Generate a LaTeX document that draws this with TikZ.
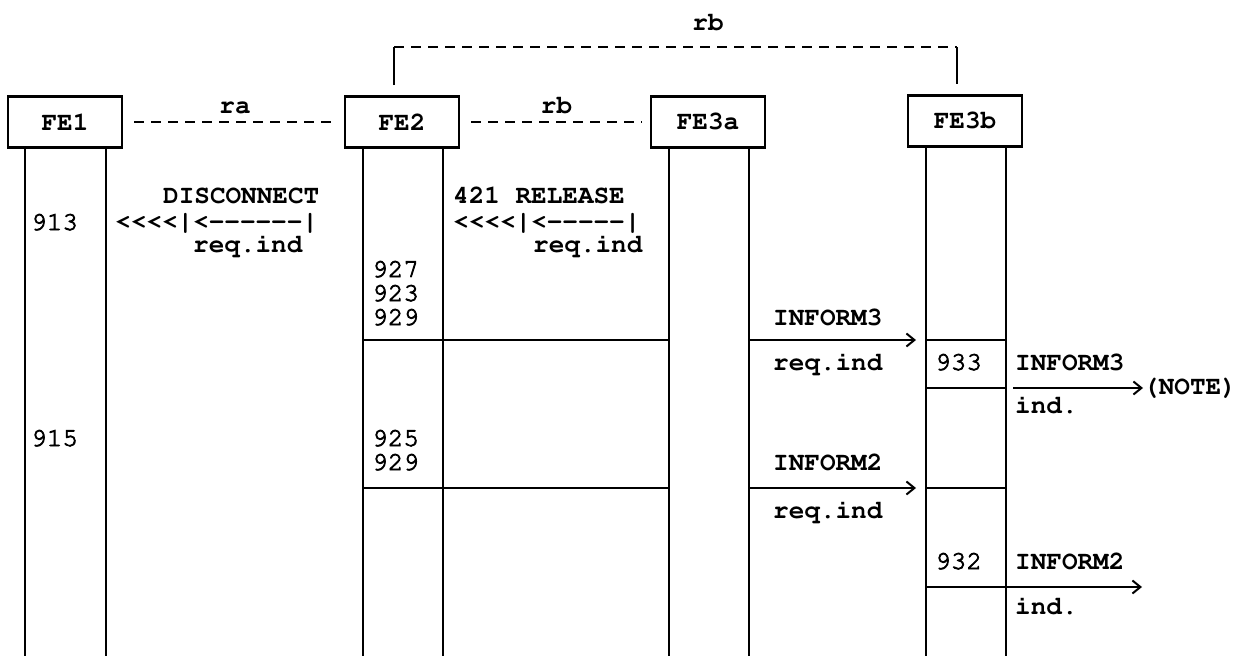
\documentclass[tikz,border=0pt]{standalone}
\usepackage[T1]{fontenc}
\usepackage{courier}
\usetikzlibrary{arrows.meta}
\newcommand\medtxt[1]{\special{pdf:literal direct 2 Tr 0.8 w}#1\special{pdf:literal direct 0 Tr}}
\begin{document}
\begin{tikzpicture}[x=1pt,y=-1pt,
  every node/.style={font=\ttfamily\bfseries\fontsize{26}{28}\selectfont},
  num/.style={font=\ttfamily\fontsize{26}{28}\selectfont},
  febox/.style={draw,line width=2.6pt,minimum width=114pt,minimum height=51pt,inner sep=0pt},
  life/.style={line width=2.6pt},
  hline/.style={line width=2.2pt},
  link/.style={line width=2.2pt,dash pattern=on 10pt off 7pt},
  msg/.style={line width=2.2pt,-{Straight Barb[length=8pt,width=13pt,line width=2pt]}},
  txt/.style={anchor=base west,inner sep=0pt}]
\useasboundingbox (0,0) rectangle (1247,656);
% boxes
\node[febox] (fe1) at (65,122) {FE1};
\node[febox] (fe2) at (402,122) {FE2};
\node[febox] (fe3a) at (708,122) {FE3a};
\node[febox] (fe3b) at (965,121) {FE3b};
% lifeline bottoms
\coordinate (b1l) at (25,656);  \coordinate (b1r) at (106,656);
\coordinate (b2l) at (363,656); \coordinate (b2r) at (443,656);
\coordinate (b3l) at (669,656); \coordinate (b3r) at (749,656);
\coordinate (b4l) at (926,656); \coordinate (b4r) at (1006,656);
\foreach \c/\n in {b1l/fe1,b1r/fe1,b2l/fe2,b2r/fe2,b3l/fe3a,b3r/fe3a,b4l/fe3b,b4r/fe3b}
  \draw[life] (\n.south -| \c) -- (\c);
% relationships
\draw[link] ([xshift=11pt]fe1.east) -- ([xshift=-8pt]fe2.west) node[midway,above=4pt] (ra) {ra};
\draw[link] ([xshift=11pt]fe2.east) -- ([xshift=-8pt]fe3a.west) node[midway,above=4pt] (rb1) {rb};
\coordinate (k1) at (394,85); \coordinate (k2) at (394,47);
\coordinate (k3) at (957,47); \coordinate (k4) at (957,84);
\draw[line width=2.4pt] (k1) -- (k2);
\draw[link] (k2) -- (k3);
\draw[line width=2.4pt] (k3) -- (k4);
\node[anchor=base] (rb2) at (708,30) {rb};
% FE1 column texts
\node[txt,num] (t913) at (31,230) {\medtxt{913}};
\node[txt,num] (t915) at (31,446) {\medtxt{915}};
\node[txt] (tdis) at (163,203) {DISCONNECT};
\node[txt] (tdisa) at (115,229) {<{}<{}<{}<|<{}-{}-{}-{}-{}-{}-|};
\node[txt] (tdisr) at (193,252) {req.ind};
% FE2 column texts
\node[txt] (trel) at (453,203) {421 RELEASE};
\node[txt] (trela) at (453,229) {<{}<{}<{}<|<{}-{}-{}-{}-{}-|};
\node[txt] (trelr) at (533,252) {req.ind};
\node[txt,num] (t927) at (372,277) {\medtxt{927}};
\node[txt,num] (t923) at (372,301) {\medtxt{923}};
\node[txt,num] (t929) at (372,325) {\medtxt{929}};
\node[txt,num] (t925) at (372,446) {\medtxt{925}};
\node[txt,num] (t929b) at (372,470) {\medtxt{929}};
% first INFORM3
\coordinate (h1a) at (363,340); \coordinate (h1b) at (669,340);
\draw[hline] (h1a) -- (h1b);
\coordinate (m1a) at (749,340); \coordinate (m1b) at (916,340);
\draw[msg] (m1a) -- (m1b);
\node[txt] (i3) at (773,325) {INFORM3};
\node[txt] (i3r) at (773,370) {req.ind};
% FE3b 933
\coordinate (s1a) at (926,340); \coordinate (s1b) at (1006,340);
\coordinate (s2a) at (926,388); \coordinate (s2b) at (1006,388);
\draw[hline] (s1a) -- (s1b);
\draw[hline] (s2a) -- (s2b);
\node[txt,num] (t933) at (935,370) {\medtxt{933}};
\node[txt] (i3b) at (1015,370) {INFORM3};
\coordinate (m2a) at (1013,388);
\node[anchor=west,inner sep=0pt] (note) at (1143,388) {(NOTE)};
\draw[msg] (m2a) -- (m2a -| note.west);
\node[txt] (i3bi) at (1015,413) {ind.};
% INFORM2
\coordinate (h2a) at (363,488); \coordinate (h2b) at (669,488);
\draw[hline] (h2a) -- (h2b);
\coordinate (m3a) at (749,488); \coordinate (m3b) at (916,488);
\draw[msg] (m3a) -- (m3b);
\node[txt] (i2) at (773,470) {INFORM2};
\node[txt] (i2r) at (773,518) {req.ind};
\coordinate (s3a) at (926,488); \coordinate (s3b) at (1006,488);
\draw[hline] (s3a) -- (s3b);
% FE3b 932
\node[txt,num] (t932) at (935,569) {\medtxt{932}};
\node[txt] (i2b) at (1015,569) {INFORM2};
\coordinate (m4a) at (926,587); \coordinate (m4b) at (1142,587);
\draw[msg] (m4a) -- (m4b);
\node[txt] (i2bi) at (1015,614) {ind.};
\end{tikzpicture}
\end{document}
